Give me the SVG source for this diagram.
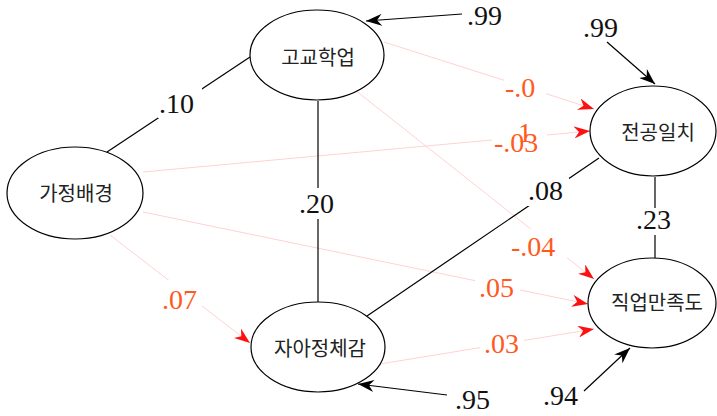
<svg xmlns="http://www.w3.org/2000/svg" width="717" height="416" viewBox="0 0 717 416">
  <style>
    .node ellipse { fill: #ffffff; stroke: #000000; stroke-width: 1.2; }
    .node text { font-family: "Noto Sans CJK KR", "Noto Sans", sans-serif; font-size: 20px; fill: #222222; text-anchor: middle; }
    .path { stroke: #000000; stroke-width: 1.2; fill: none; }
    .weak { stroke: #ffd2d2; stroke-width: 1; fill: none; }
    .gap { fill: #ffffff; stroke: none; }
    .coef { font-family: "Liberation Serif", "Times New Roman", serif; font-size: 28px; fill: #111111; }
    .minor { fill: #ff5a1e; }
  </style>
  <defs>
    <marker id="head-red" viewBox="0 0 16 12" markerWidth="16" markerHeight="12" refX="16" refY="6" orient="auto" markerUnits="userSpaceOnUse">
      <path d="M0,0 L16,6 L0,12 L5,6 Z" fill="#ff1010"/>
    </marker>
    <marker id="head-black" viewBox="0 0 16 12" markerWidth="16" markerHeight="12" refX="16" refY="6" orient="auto" markerUnits="userSpaceOnUse">
      <path d="M0,0 L16,6 L0,12 L5,6 Z" fill="#000000"/>
    </marker>
  </defs>
  <rect width="717" height="416" fill="#ffffff"/>

  <!-- connectors -->
  <g id="connectors">
    <!-- weak paths -->
    <line class="weak" x1="110" y1="235" x2="250" y2="343" marker-end="url(#head-red)"/>
    <line class="weak" x1="143" y1="172" x2="590" y2="131" marker-end="url(#head-red)"/>
    <line class="weak" x1="384" y1="42" x2="594" y2="109" marker-end="url(#head-red)"/>
    <line class="weak" x1="355" y1="90" x2="594" y2="279" marker-end="url(#head-red)"/>
    <line class="weak" x1="143" y1="212" x2="588" y2="304" marker-end="url(#head-red)"/>
    <line class="weak" x1="380" y1="364" x2="594" y2="329" marker-end="url(#head-red)"/>
    <!-- main paths -->
    <line class="path" x1="107" y1="152" x2="250" y2="57"/>
    <line class="path" x1="318" y1="101" x2="318" y2="302"/>
    <line class="path" x1="367" y1="316" x2="599" y2="158"/>
    <line class="path" x1="655" y1="177" x2="655" y2="258"/>
    <!-- residuals -->
    <line class="path" x1="462" y1="14" x2="366" y2="21" marker-end="url(#head-black)"/>
    <line class="path" x1="607" y1="42" x2="655" y2="84" marker-end="url(#head-black)"/>
    <line class="path" x1="447" y1="395" x2="358" y2="384" marker-end="url(#head-black)"/>
    <line class="path" x1="584" y1="391" x2="630" y2="348" marker-end="url(#head-black)"/>
  </g>

  <!-- coefficient labels; white boxes break the lines behind them -->
  <g id="labels">
    <rect class="gap" x="158" y="88" width="44" height="30"/>
    <rect class="gap" x="298" y="188" width="40" height="31"/>
    <rect class="gap" x="525" y="178" width="44" height="28"/>
    <rect class="gap" x="634" y="208" width="42" height="27"/>
    <rect class="gap" x="504" y="76" width="42" height="24"/>
    <rect class="gap" x="492" y="124" width="55" height="30"/>
    <rect class="gap" x="508" y="229" width="59" height="31"/>
    <rect class="gap" x="475" y="274" width="45" height="26"/>
    <rect class="gap" x="160" y="280" width="42" height="30"/>
    <rect class="gap" x="480" y="332" width="44" height="24"/>

    <text class="coef" x="159" y="113">.10</text>
    <text class="coef" x="299" y="213">.20</text>
    <text class="coef" x="528" y="200">.08</text>
    <text class="coef" x="636" y="229">.23</text>
    <text class="coef" x="467" y="25">.99</text>
    <text class="coef" x="583" y="37">.99</text>
    <text class="coef" x="455" y="409">.95</text>
    <text class="coef" x="543" y="405">.94</text>

    <text class="coef minor" x="505" y="97">-.0</text>
    <text class="coef minor" x="518" y="142">1</text>
    <text class="coef minor" x="494" y="152">-.03</text>
    <text class="coef minor" x="511" y="256">-.04</text>
    <text class="coef minor" x="479" y="297">.05</text>
    <text class="coef minor" x="162" y="309">.07</text>
    <text class="coef minor" x="484" y="353">.03</text>
  </g>

  <!-- nodes -->
  <g id="family" class="node">
    <ellipse cx="75" cy="193" rx="68" ry="46"/>
    <text x="76" y="201">가정배경</text>
  </g>
  <g id="school" class="node">
    <ellipse cx="317" cy="55" rx="67" ry="45"/>
    <text x="318" y="65">고교학업</text>
  </g>
  <g id="identity" class="node">
    <ellipse cx="318" cy="347" rx="67" ry="45"/>
    <text x="320" y="356">자아정체감</text>
  </g>
  <g id="major-match" class="node">
    <ellipse cx="653" cy="131" rx="63" ry="45"/>
    <text x="658" y="140">전공일치</text>
  </g>
  <g id="job-satisfaction" class="node">
    <ellipse cx="652" cy="303" rx="64" ry="45"/>
    <text x="657" y="310">직업만족도</text>
  </g>
</svg>
